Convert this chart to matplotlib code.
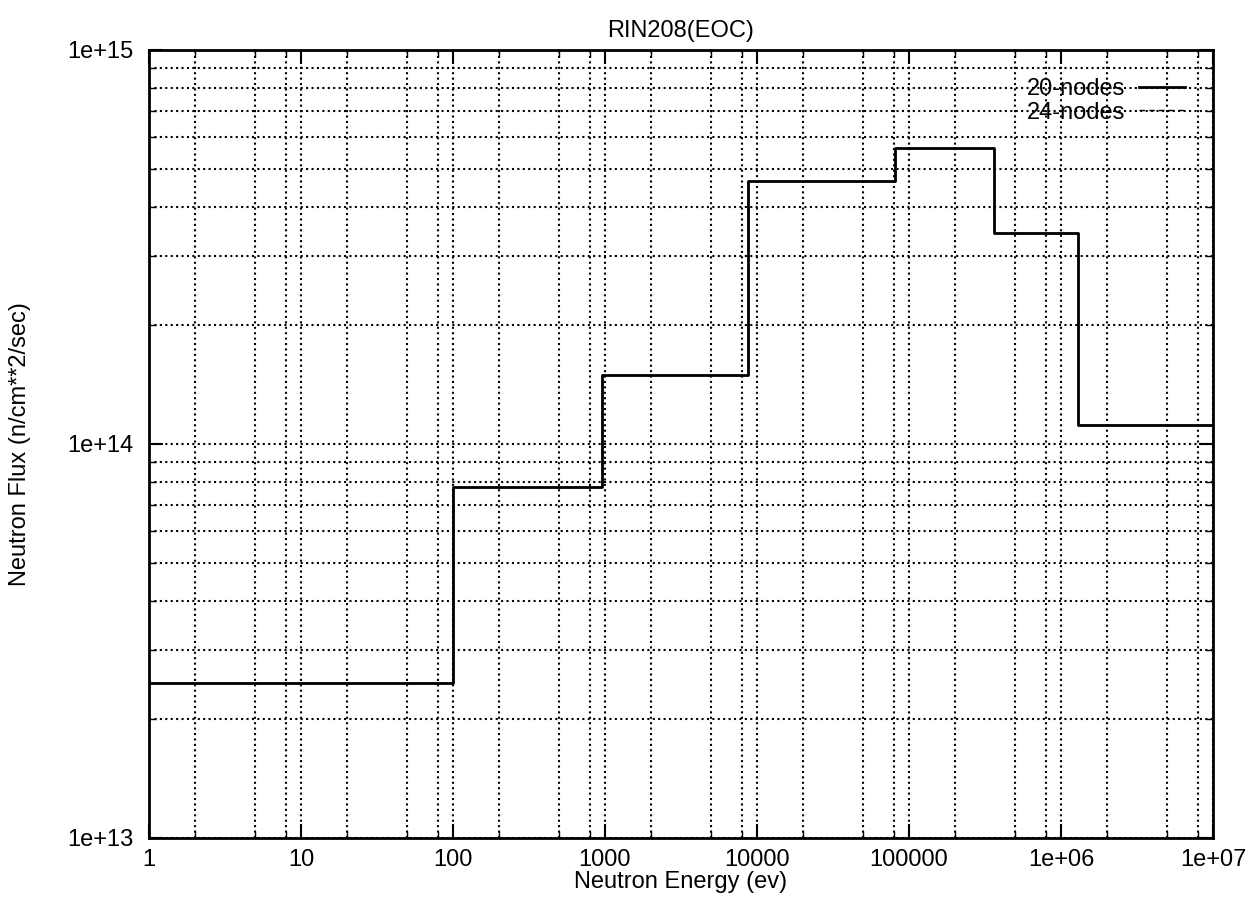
import matplotlib
matplotlib.use("Agg")
import matplotlib.pyplot as plt
from matplotlib.ticker import LogLocator, FixedLocator, FixedFormatter, NullFormatter

plt.rcParams['font.family'] = ['Liberation Sans', 'DejaVu Sans']

# Group boundaries (eV) and flux per group
energy_edges = [1, 100, 955, 8700, 81000, 360000, 1.3e6, 1e7]
flux_20 = [2.48e13, 7.8e13, 1.5e14, 4.64e14, 5.63e14, 3.44e14, 1.12e14]
flux_24 = [2.48e13, 7.8e13, 1.5e14, 4.64e14, 5.63e14, 3.44e14, 1.12e14]

xticks = [1, 10, 100, 1000, 1e4, 1e5, 1e6, 1e7]
xticklabels = ["1", "10", "100", "1000", "10000", "100000", "1e+06", "1e+07"]
yticks = [1e13, 1e14, 1e15]
yticklabels = ["1e+13", "1e+14", "1e+15"]

FS = 17

fig = plt.figure(figsize=(12.55, 9.02), dpi=100)
ax = fig.add_axes([149/1255, 1-838/902, (1213-149)/1255, (838-50)/902])

ax.set_xscale('log')
ax.set_yscale('log')
ax.set_xlim(1, 1e7)
ax.set_ylim(1e13, 1e15)

ax.step(energy_edges, flux_24 + [flux_24[-1]], where='post', color='black',
        lw=1.0, ls=(0, (4, 3)), label='24-nodes', zorder=3)
ax.step(energy_edges, flux_20 + [flux_20[-1]], where='post', color='black',
        lw=2.0, label='20-nodes', zorder=4)

ax.xaxis.set_major_locator(FixedLocator(xticks))
ax.xaxis.set_major_formatter(FixedFormatter(xticklabels))
ax.xaxis.set_minor_locator(LogLocator(base=10, subs=[2, 5, 8], numticks=20))
ax.xaxis.set_minor_formatter(NullFormatter())
ax.yaxis.set_major_locator(FixedLocator(yticks))
ax.yaxis.set_major_formatter(FixedFormatter(yticklabels))
ax.yaxis.set_minor_locator(LogLocator(base=10, subs=[2, 3, 4, 5, 6, 7, 8, 9], numticks=20))
ax.yaxis.set_minor_formatter(NullFormatter())

ax.grid(True, which='both', color='black', ls=(0, (1.0, 1.6)), lw=1.5)
ax.tick_params(which='major', direction='in', length=10, width=1.5, top=True, right=True,
               labelsize=FS)
ax.tick_params(axis='x', which='major', pad=8)
ax.tick_params(axis='y', which='major', pad=11)
ax.tick_params(which='minor', direction='in', length=5, width=1.0, top=True, right=True)
for s in ax.spines.values():
    s.set_linewidth(2.0)

ax.set_title('RIN208(EOC)', fontsize=FS, pad=9)
ax.set_xlabel('Neutron Energy (ev)', fontsize=FS, labelpad=0)
ax.set_ylabel('Neutron Flux (n/cm**2/sec)', fontsize=FS, labelpad=26)

handles, labels = ax.get_legend_handles_labels()
leg = ax.legend([handles[1], handles[0]], [labels[1], labels[0]],
                loc='upper right', bbox_to_anchor=(0.974, 0.964), frameon=False,
                markerfirst=False, fontsize=FS, handlelength=1.95,
                handletextpad=0.6, labelspacing=0.05, borderpad=0, borderaxespad=0)
for t in leg.get_texts():
    t.set_ha('right')

fig.savefig('out.png', dpi=100)
